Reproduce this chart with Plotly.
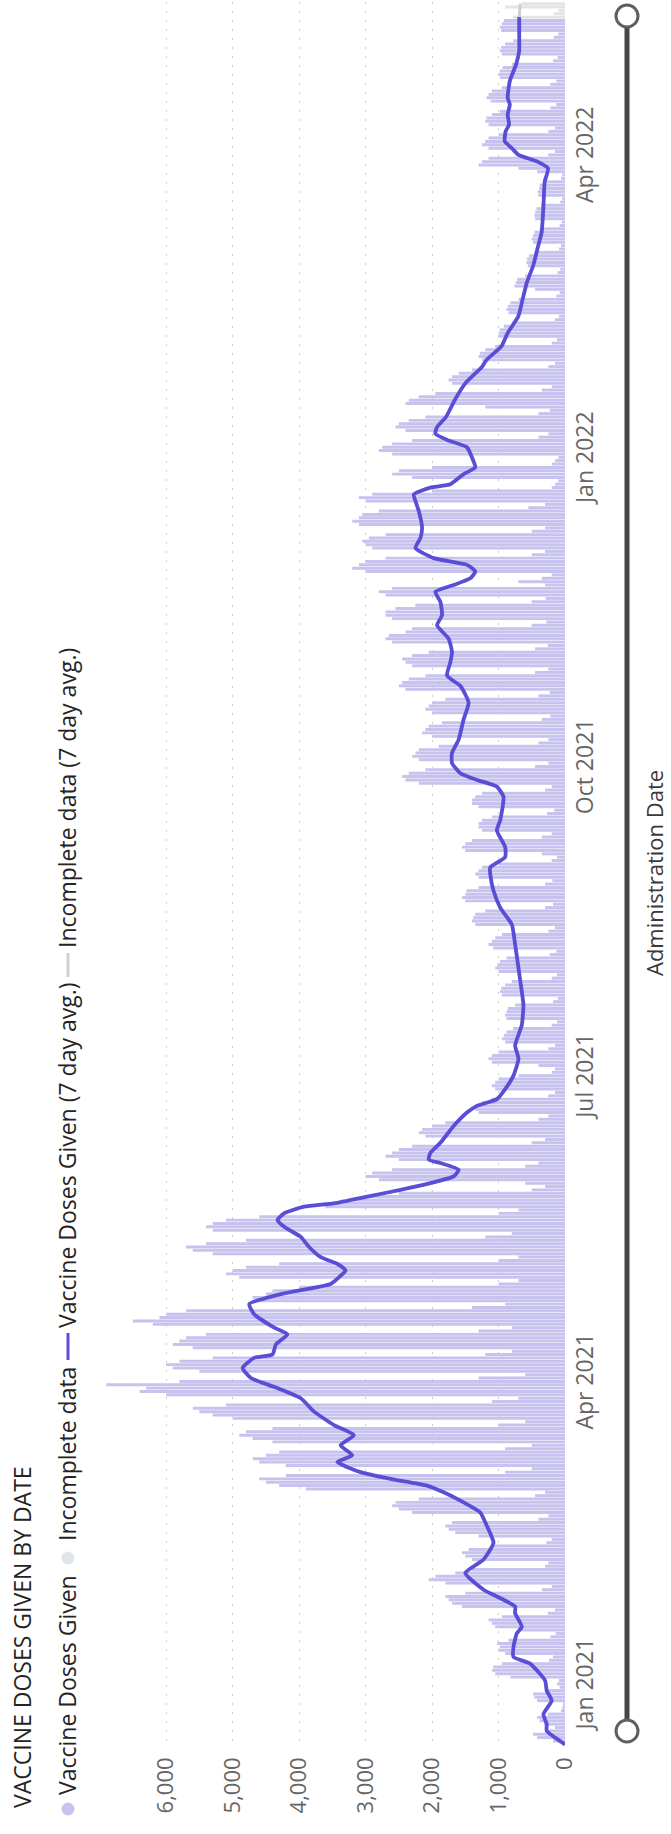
import pandas as pd
import plotly.graph_objects as go

# ---------------------------------------------------------------------------
# Data
# ---------------------------------------------------------------------------
# Daily vaccine doses, one row per week (Mon..Sun), first row = week of 2020-12-14
weekly_doses = [
    [None, 30, 180, 420, 480, 250, 150],            # 2020-12-14
    [310, 380, 420, 260, 60, 40, 30],                # 2020-12-21
    [420, 460, 480, 300, 80, 120, 90],               # 2020-12-28
    [820, 1050, 1100, 1080, 950, 240, 180],          # 2021-01-04
    [900, 1000, 980, 1020, 850, 220, 140],           # 2021-01-11
    [650, 1050, 1100, 1150, 950, 260, 150],          # 2021-01-18
    [1550, 1700, 1750, 1800, 1500, 350, 200],        # 2021-01-25
    [1800, 2050, 1950, 1650, 1400, 300, 250],        # 2021-02-01
    [1400, 1500, 1550, 1450, 1100, 280, 200],        # 2021-02-08
    [1300, 1650, 1750, 1800, 1700, 400, 250],        # 2021-02-15
    [2300, 2500, 2600, 2550, 2200, 450, 300],        # 2021-02-22
    [3900, 4300, 4500, 4600, 4200, 900, 500],        # 2021-03-01
    [4200, 4600, 4700, 4500, 4300, 900, 500],        # 2021-03-08
    [4400, 4700, 4900, 4800, 4400, 1000, 600],       # 2021-03-15
    [5000, 5300, 5500, 5600, 5100, 1100, 700],       # 2021-03-22
    [6000, 6400, 6300, 6900, 5800, 1300, 600],       # 2021-03-29
    [5500, 5900, 6000, 5800, 5300, 1200, 800],       # 2021-04-05
    [5600, 5900, 5800, 5700, 5400, 1300, 800],       # 2021-04-12
    [6200, 6500, 6100, 6000, 5700, 1400, 900],       # 2021-04-19
    [4600, 4700, 4500, 4400, 4000, 1000, 700],       # 2021-04-26
    [4900, 5100, 5000, 4800, 4300, 1000, 700],       # 2021-05-03
    [5300, 5600, 5700, 5400, 4800, 1200, 800],       # 2021-05-10
    [5300, 5400, 5300, 5100, 4600, 1000, 700],       # 2021-05-17
    [3600, 3500, 3200, 3000, 2500, 500, 300],        # 2021-05-24
    [600, 2800, 3000, 2900, 2600, 600, 400],         # 2021-05-31
    [2500, 2700, 2600, 2500, 2300, 500, 300],        # 2021-06-07
    [2100, 2200, 2150, 2000, 1800, 400, 250],        # 2021-06-14
    [1300, 1350, 1300, 1250, 1100, 250, 150],        # 2021-06-21
    [1050, 1100, 1050, 1000, 700, 200, 150],         # 2021-06-28
    [400, 1100, 1150, 1100, 1000, 250, 150],         # 2021-07-05
    [900, 950, 920, 880, 780, 200, 120],             # 2021-07-12
    [880, 900, 880, 860, 750, 180, 110],             # 2021-07-19
    [950, 980, 960, 900, 800, 200, 120],             # 2021-07-26
    [1000, 1050, 1020, 980, 880, 230, 130],          # 2021-08-02
    [1080, 1150, 1100, 1050, 950, 250, 150],         # 2021-08-09
    [1350, 1400, 1380, 1350, 1200, 300, 180],        # 2021-08-16
    [1500, 1550, 1500, 1480, 1300, 300, 190],        # 2021-08-23
    [1300, 1350, 1300, 1250, 1000, 200, 120],        # 2021-08-30
    [350, 1500, 1550, 1500, 1400, 350, 200],         # 2021-09-06
    [1250, 1300, 1300, 1250, 1100, 270, 160],        # 2021-09-13
    [1300, 1400, 1400, 1350, 1250, 300, 200],        # 2021-09-20
    [2200, 2400, 2450, 2350, 2100, 450, 250],        # 2021-09-27
    [2200, 2300, 2250, 2200, 1900, 400, 250],        # 2021-10-04
    [2000, 2150, 2100, 2050, 1850, 350, 220],        # 2021-10-11
    [2000, 2100, 2050, 2000, 1800, 400, 230],        # 2021-10-18
    [2400, 2500, 2450, 2350, 2100, 450, 250],        # 2021-10-25
    [2300, 2400, 2450, 2300, 2050, 450, 260],        # 2021-11-01
    [2600, 2700, 2650, 2400, 2300, 500, 280],        # 2021-11-08
    [2600, 2700, 2700, 2550, 2250, 500, 290],        # 2021-11-15
    [2700, 2800, 2600, 300, 700, 350, 200],          # 2021-11-22
    [3000, 3200, 3100, 3000, 2700, 500, 300],        # 2021-11-29
    [2900, 3000, 3050, 2950, 2700, 500, 300],        # 2021-12-06
    [3100, 3200, 3100, 3050, 2800, 550, 300],        # 2021-12-13
    [3000, 3100, 2900, 2000, 200, 150, 100],         # 2021-12-20
    [2300, 2600, 2500, 2000, 200, 150, 100],         # 2021-12-27
    [2600, 2800, 2750, 2600, 2300, 400, 250],        # 2022-01-03
    [2400, 2550, 2500, 2350, 2100, 400, 230],        # 2022-01-10
    [1200, 2400, 2350, 2200, 1950, 350, 200],        # 2022-01-17
    [1700, 1750, 1700, 1600, 1400, 250, 150],        # 2022-01-24
    [1250, 1300, 1280, 1200, 1050, 200, 120],        # 2022-01-31
    [1000, 1000, 980, 920, 800, 150, 90],            # 2022-02-07
    [850, 880, 860, 820, 700, 130, 80],              # 2022-02-14
    [450, 760, 740, 720, 600, 110, 70],              # 2022-02-21
    [560, 580, 570, 540, 460, 90, 60],               # 2022-02-28
    [480, 500, 480, 460, 380, 80, 50],               # 2022-03-07
    [450, 460, 450, 430, 360, 70, 40],               # 2022-03-14
    [400, 410, 390, 380, 310, 60, 40],               # 2022-03-21
    [420, 700, 1300, 1250, 1150, 250, 150],          # 2022-03-28
    [1150, 1250, 1200, 1150, 1000, 250, 150],        # 2022-04-04
    [1150, 1200, 1180, 1100, 980, 220, 130],         # 2022-04-11
    [1120, 1180, 1150, 1100, 950, 220, 130],         # 2022-04-18
    [980, 1000, 980, 940, 800, 180, 110],            # 2022-04-25
    [950, 980, 960, 900, 780, 170, 100],             # 2022-05-02
    [960, 980, 950, 920, 780, 170, 100],             # 2022-05-09
    [900, 650],                                      # 2022-05-16
]
first_week_start = "2020-12-14"
incomplete_from = "2022-05-13"

# 7-day average of doses given
avg_dates = [
    "2020-12-15", "2020-12-19", "2020-12-21", "2020-12-24", "2020-12-28", "2020-12-31",
    "2021-01-03", "2021-01-08", "2021-01-10", "2021-01-13", "2021-01-17", "2021-01-19",
    "2021-01-23", "2021-01-25", "2021-01-28", "2021-01-30",
    "2021-02-04", "2021-02-08", "2021-02-13", "2021-02-18", "2021-02-22", "2021-02-25",
    "2021-02-28",
    "2021-03-02", "2021-03-04", "2021-03-06", "2021-03-09", "2021-03-11", "2021-03-14",
    "2021-03-17", "2021-03-20", "2021-03-24", "2021-03-28", "2021-03-31",
    "2021-04-03", "2021-04-06", "2021-04-09", "2021-04-10", "2021-04-13", "2021-04-16",
    "2021-04-18", "2021-04-22", "2021-04-25", "2021-04-28",
    "2021-05-01", "2021-05-03", "2021-05-05", "2021-05-07", "2021-05-09", "2021-05-12",
    "2021-05-15", "2021-05-18", "2021-05-20", "2021-05-22", "2021-05-24", "2021-05-25",
    "2021-05-27", "2021-05-29", "2021-05-31",
    "2021-06-02", "2021-06-04", "2021-06-06", "2021-06-07", "2021-06-09", "2021-06-12",
    "2021-06-17", "2021-06-21", "2021-06-23", "2021-06-25", "2021-06-28",
    "2021-07-02", "2021-07-07", "2021-07-11", "2021-07-17", "2021-07-23", "2021-07-27",
    "2021-08-03", "2021-08-10", "2021-08-16", "2021-08-21", "2021-08-26", "2021-08-31",
    "2021-09-02", "2021-09-05", "2021-09-08", "2021-09-13", "2021-09-16", "2021-09-23",
    "2021-09-26", "2021-09-28", "2021-09-30",
    "2021-10-03", "2021-10-06", "2021-10-10", "2021-10-16", "2021-10-21", "2021-10-26",
    "2021-10-29",
    "2021-11-02", "2021-11-05", "2021-11-09", "2021-11-13", "2021-11-16", "2021-11-20",
    "2021-11-23", "2021-11-25", "2021-11-27", "2021-11-29",
    "2021-12-01", "2021-12-03", "2021-12-06", "2021-12-09", "2021-12-12", "2021-12-17",
    "2021-12-20", "2021-12-22", "2021-12-24", "2021-12-25", "2021-12-28", "2021-12-30",
    "2022-01-02", "2022-01-05", "2022-01-07", "2022-01-09", "2022-01-11", "2022-01-14",
    "2022-01-19", "2022-01-24", "2022-01-29", "2022-01-31",
    "2022-02-04", "2022-02-08", "2022-02-13", "2022-02-18", "2022-02-23", "2022-02-28",
    "2022-03-05", "2022-03-10", "2022-03-15", "2022-03-20", "2022-03-25", "2022-03-29",
    "2022-03-31",
    "2022-04-02", "2022-04-04", "2022-04-06", "2022-04-09", "2022-04-11", "2022-04-14",
    "2022-04-17", "2022-04-19", "2022-04-24", "2022-04-29",
    "2022-05-03", "2022-05-08", "2022-05-13",
]
avg_values = [
    0, 275, 275, 325, 200, 275,
    300, 525, 775, 775, 725, 650,
    750, 750, 1025, 1225,
    1500, 1225, 1075, 1175, 1275, 1525,
    1825,
    2075, 2625, 3075, 3425, 3200, 3375,
    3175, 3475, 3775, 3975, 4325,
    4725, 4850, 4675, 4400, 4350, 4175,
    4375, 4675, 4750, 4275,
    3525, 3400, 3300, 3425, 3675, 3850,
    3975, 4225, 4325, 4225, 3925, 3475,
    2975, 2475, 2025,
    1675, 1600, 1875, 2050, 2025, 1875,
    1675, 1475, 1325, 1025, 900,
    775, 700, 750, 650, 625, 650,
    700, 750, 800, 975, 1075, 1125,
    1125, 900, 900, 1025, 975, 925,
    1025, 1325, 1575,
    1700, 1700, 1600, 1525, 1450, 1575,
    1775,
    1725, 1700, 1750, 1925, 1850, 1875,
    1950, 1675, 1425, 1350,
    1475, 1975, 2250, 2175, 2150, 2200,
    2250, 2275, 2025, 1725, 1525, 1350,
    1400, 1475, 1750, 1950, 1925, 1790,
    1660, 1500, 1245, 1180,
    957, 862, 702, 638, 574, 479,
    415, 351, 332, 319, 306, 255,
    415,
    700, 800, 906, 893, 842, 862,
    830, 862, 830, 734,
    689, 689, 689,
]
incomplete_avg_dates = ["2022-05-13", "2022-05-14", "2022-05-15", "2022-05-16", "2022-05-17"]
incomplete_avg_values = [689, 684, 680, 676, 672]

value_ticks = [0, 1000, 2000, 3000, 4000, 5000, 6000]
date_range = ["2020-12-14 12:00", "2022-05-17 12:00"]
value_max = 6950

legend_items = [
    "Vaccine Doses Given",
    "Incomplete data",
    "Vaccine Doses Given (7 day avg.)",
    "Incomplete data (7 day avg.)",
]

# ---------------------------------------------------------------------------
# Styling / layout constants
# ---------------------------------------------------------------------------
W, H = 671, 1834
M_L, M_R, M_T, M_B = 103, 106, 2, 88
PLOT_W = W - M_L - M_R
PLOT_H = H - M_T - M_B

BAR_COLOR = "#c7c2ee"
LINE_COLOR = "#5a4dd6"
GRAY_BAR = "#e4e4e6"
GRAY_LINE = "#cfcfd4"
TEXT_DARK = "#252423"
TICK_COLOR = "#666666"
FONT = "Open Sans"


def px(x):
    """Horizontal pixel position -> paper coordinate."""
    return (x - M_L) / PLOT_W


def py(y):
    """Vertical pixel position (from top) -> paper coordinate."""
    return (H - M_B - y) / PLOT_H


# ---------------------------------------------------------------------------
# Series
# ---------------------------------------------------------------------------
flat = [v for week in weekly_doses for v in week]
days = pd.date_range(first_week_start, periods=len(flat), freq="D")
daily = pd.Series(flat, index=days, dtype="float").dropna()
complete = daily[daily.index < incomplete_from]
incomplete = daily[daily.index >= incomplete_from]

fig = go.Figure()
fig.add_trace(go.Bar(
    y=complete.index, x=complete.values, orientation="h",
    marker=dict(color=BAR_COLOR, line=dict(width=0)), name=legend_items[0],
))
fig.add_trace(go.Bar(
    y=incomplete.index, x=incomplete.values, orientation="h",
    marker=dict(color=GRAY_BAR, line=dict(width=0)), name=legend_items[1],
))
fig.add_trace(go.Scatter(
    y=pd.to_datetime(avg_dates), x=avg_values, mode="lines",
    line=dict(color=LINE_COLOR, width=3.8, shape="spline", smoothing=0.5),
    name=legend_items[2],
))
fig.add_trace(go.Scatter(
    y=pd.to_datetime(incomplete_avg_dates), x=incomplete_avg_values, mode="lines",
    line=dict(color=GRAY_LINE, width=3), name=legend_items[3],
))

# ---------------------------------------------------------------------------
# Rotated text (title, legend, axis title)
# ---------------------------------------------------------------------------
annotations = [
    dict(text="VACCINE DOSES GIVEN BY DATE", x=px(22), y=py(1810),
         font=dict(size=23, color=TEXT_DARK, family=FONT)),
    dict(text=legend_items[0], x=px(67), y=py(1797),
         font=dict(size=23, color=TEXT_DARK, family=FONT)),
    dict(text=legend_items[1], x=px(67), y=py(1543),
         font=dict(size=23, color=TEXT_DARK, family=FONT)),
    dict(text=legend_items[2], x=px(67), y=py(1330),
         font=dict(size=23, color=TEXT_DARK, family=FONT)),
    dict(text=legend_items[3], x=px(67), y=py(950),
         font=dict(size=23, color=TEXT_DARK, family=FONT)),
]
for a in annotations:
    a.update(xref="paper", yref="paper", xanchor="center", yanchor="bottom",
             textangle=-90, showarrow=False)
annotations.append(dict(
    text="Administration Date", x=px(654), y=py(873), xref="paper", yref="paper",
    xanchor="center", yanchor="middle", textangle=-90, showarrow=False,
    font=dict(size=22, color="#3a3a3a", family=FONT),
))

shapes = [
    # legend markers
    dict(type="circle", xref="paper", yref="paper",
         x0=px(61.5), x1=px(74.5), y0=py(1815.5), y1=py(1802.5),
         fillcolor=BAR_COLOR, line=dict(width=0)),
    dict(type="circle", xref="paper", yref="paper",
         x0=px(61.5), x1=px(74.5), y0=py(1564.5), y1=py(1551.5),
         fillcolor="#e1e4e8", line=dict(width=0)),
    dict(type="line", xref="paper", yref="paper",
         x0=px(68), x1=px(68), y0=py(1360), y1=py(1333),
         line=dict(color=LINE_COLOR, width=3)),
    dict(type="line", xref="paper", yref="paper",
         x0=px(68), x1=px(68), y0=py(977), y1=py(953),
         line=dict(color=GRAY_LINE, width=3)),
    # zoom slider track and handles
    dict(type="line", xref="paper", yref="paper",
         x0=px(627), x1=px(627), y0=py(1731), y1=py(16),
         line=dict(color="#464646", width=5)),
    dict(type="circle", xref="paper", yref="paper",
         x0=px(616), x1=px(638), y0=py(1742), y1=py(1720),
         fillcolor="white", line=dict(color="#5f5f5f", width=3)),
    dict(type="circle", xref="paper", yref="paper",
         x0=px(616), x1=px(638), y0=py(27), y1=py(5),
         fillcolor="white", line=dict(color="#5f5f5f", width=3)),
]

fig.update_layout(
    template="none",
    width=W, height=H,
    margin=dict(l=M_L, r=M_R, t=M_T, b=M_B, pad=0),
    paper_bgcolor="white", plot_bgcolor="white",
    barmode="overlay", bargap=0.12,
    showlegend=False,
    font=dict(family=FONT, color=TICK_COLOR),
    annotations=annotations,
    shapes=shapes,
    xaxis=dict(
        range=[value_max, 0], tickvals=value_ticks, tickformat=",",
        tickangle=-90, side="bottom", ticks="", showline=False,
        zeroline=False, showgrid=True, gridcolor="#cdcdcd", gridwidth=1,
        griddash="2px,7px", automargin=False,
        tickfont=dict(size=22, color=TICK_COLOR, family=FONT),
        ticklabelstandoff=6,
    ),
    yaxis=dict(
        type="date", range=date_range, side="right",
        tick0="2021-01-01", dtick="M3", tickformat="%b %Y",
        tickangle=-90, ticks="", showline=False, showgrid=False,
        zeroline=False, automargin=False,
        tickfont=dict(size=23, color=TICK_COLOR, family=FONT),
        ticklabelstandoff=4,
    ),
)

fig.write_html("out.html")
